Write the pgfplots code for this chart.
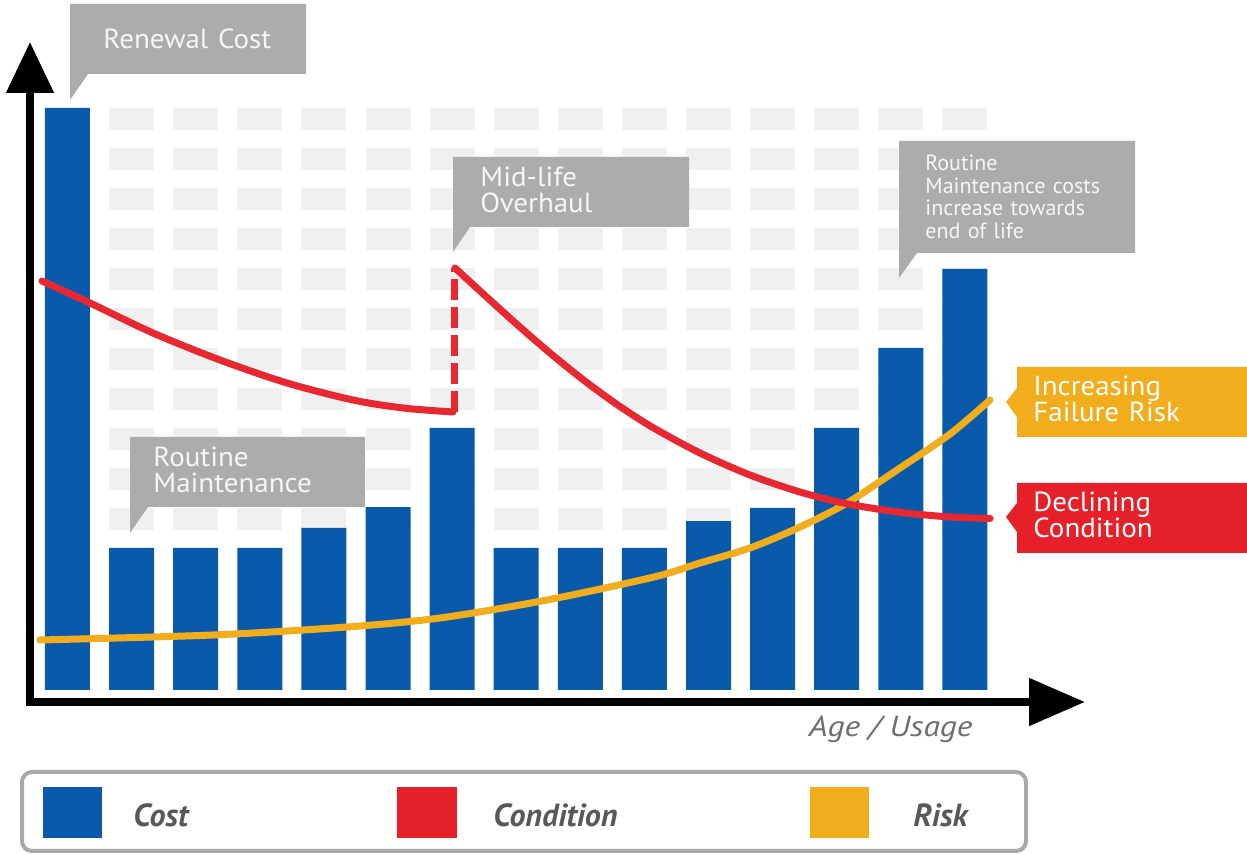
\documentclass[border=0pt]{standalone}
\usepackage{pgfplots}
\pgfplotsset{compat=1.18}
\usetikzlibrary{arrows.meta}
\usepackage{fontspec}
\setmainfont{PT Sans}
\definecolor{costblue}{RGB}{10,90,172}
\definecolor{condred}{RGB}{232,40,48}
\definecolor{boxred}{RGB}{229,32,40}
\definecolor{riskorange}{RGB}{242,173,28}
\definecolor{callgray}{RGB}{172,172,172}
\definecolor{cellgray}{RGB}{240,240,240}
\definecolor{calltext}{RGB}{246,246,246}
\definecolor{legborder}{RGB}{168,168,168}
\definecolor{labelgray}{RGB}{88,88,88}
\definecolor{agegray}{RGB}{110,110,110}
\begin{document}
\begin{tikzpicture}
\useasboundingbox (0,0) rectangle (623.5pt,427.5pt);
\fill[white] (0,0) rectangle (623.5pt,427.5pt);
% background decoration: light grid cells (pixel coordinates)
\begin{scope}[x=0.5pt,y=-0.5pt,shift={(0pt,427.5pt)}]
\foreach \c in {0,...,14}{
  \foreach \r in {0,...,10}{
    \fill[cellgray] ({45+64.1*\c},{108+40*\r}) rectangle ({90+64.1*\c},{130+40*\r});
  }
}
\end{scope}
\begin{axis}[
  at={(15pt,76.5pt)}, anchor=south west,
  x=32.05pt, y=20pt,
  xmin=0.415, xmax=16.874, ymin=-0.3, ymax=16.2,
  axis lines=left,
  xtick=\empty, ytick=\empty,
  clip=false,
  x axis line style={line width=4pt, line cap=rect, -{Triangle[width=23pt,length=28pt]}},
  y axis line style={line width=4pt, line cap=rect, -{Triangle[width=23pt,length=25.5pt]}},
]
\addplot[ybar, bar width=22.5pt, fill=costblue, draw=none] coordinates {
  (1,14.55) (2,3.55) (3,3.55) (4,3.55) (5,4.05) (6,4.57) (7,6.55) (8,3.55)
  (9,3.55) (10,3.55) (11,4.22) (12,4.55) (13,6.55) (14,8.55) (15,10.53)};
% Risk
\addplot[riskorange, line width=3.5pt, smooth, line cap=round] coordinates {
  (0.571,1.25) (3.270,1.375) (5.361,1.575) (6.811,1.8) (8.480,2.25) (10.150,2.825)
  (10.867,3.175) (11.647,3.55) (12.427,4.075) (13.161,4.675) (13.988,5.55) (14.768,6.4) (15.392,7.25)};
% Condition
\addplot[condred, line width=3.5pt, smooth, line cap=round] coordinates {
  (0.602,10.225) (1.351,9.675) (2.334,8.925) (3.379,8.25) (4.424,7.675) (5.454,7.25) (6.234,7.05) (7.014,6.95)};
\addplot[condred, line width=3.5pt, dash pattern=on 10.5pt off 3.5pt] coordinates {
  (7.03,6.95) (7.03,10.55)};
\addplot[condred, line width=3.5pt, smooth, line cap=round] coordinates {
  (7.045,10.55) (7.545,9.815) (8.059,9.0725) (8.574,8.3625) (9.104,7.6825) (9.619,7.0875)
  (10.134,6.56) (10.867,5.925) (11.647,5.375) (12.427,4.95) (13.161,4.655) (13.988,4.4425)
  (14.768,4.325) (15.392,4.2875)};
\end{axis}
% callouts and legend (pixel coordinates)
\begin{scope}[x=0.5pt,y=-0.5pt,shift={(0pt,427.5pt)}]
\tikzset{ct/.style={anchor=base west, inner sep=0pt, text=calltext, text width=110pt, align=left},
  big/.style={font=\fontsize{13.8}{13}\selectfont, xscale=1.05}}
\fill[callgray] (70,4) -- (306,4) -- (306,74) -- (88,74) -- (70,100) -- cycle;
\node[ct, big] at (103,49) {Renewal Cost};
\fill[callgray] (453,157) -- (689,157) -- (689,227) -- (470,227) -- (453,252) -- cycle;
\node[ct, big] at (480,187) {Mid-life\\Overhaul};
\fill[callgray] (899,141) -- (1135,141) -- (1135,253) -- (917,253) -- (899,278) -- cycle;
\node[ct, font=\fontsize{11}{11.2}\selectfont] at (925,171) {Routine\\Maintenance costs\\increase towards\\end of life};
\fill[callgray] (130,437) -- (365,437) -- (365,507) -- (148,507) -- (130,533) -- cycle;
\node[ct, big] at (153,467) {Routine\\Maintenance};
\fill[riskorange] (1017,367) -- (1247,367) -- (1247,437) -- (1017,437) -- (1017,417) -- (1006,402) -- (1017,388) -- cycle;
\node[ct, text=white, big] at (1033,396) {Increasing\\Failure Risk};
\fill[boxred] (1017,483) -- (1247,483) -- (1247,553) -- (1017,553) -- (1017,532) -- (1006,517) -- (1017,503) -- cycle;
\node[ct, text=white, big] at (1033,512) {Declining\\Condition};
% axis label
\node[anchor=base east, inner sep=0pt, text=agegray, xscale=1.16, font=\fontsize{14.5}{17}\selectfont\itshape] at (973,737) {Age / Usage};
% legend
\draw[legborder, line width=2pt, rounded corners=5pt, fill=white] (22,772) rectangle (1026,851);
\fill[costblue] (43,787) rectangle (102,838);
\fill[boxred] (397,787) rectangle (457,838);
\fill[riskorange] (810,787) rectangle (869,838);
\tikzset{lt/.style={anchor=base west, inner sep=0pt, text=labelgray, font=\fontsize{16}{19}\selectfont\bfseries\itshape}}
\node[lt] at (133,827) {Cost};
\node[lt] at (493,827) {Condition};
\node[lt] at (913,827) {Risk};
\end{scope}
\end{tikzpicture}
\end{document}
